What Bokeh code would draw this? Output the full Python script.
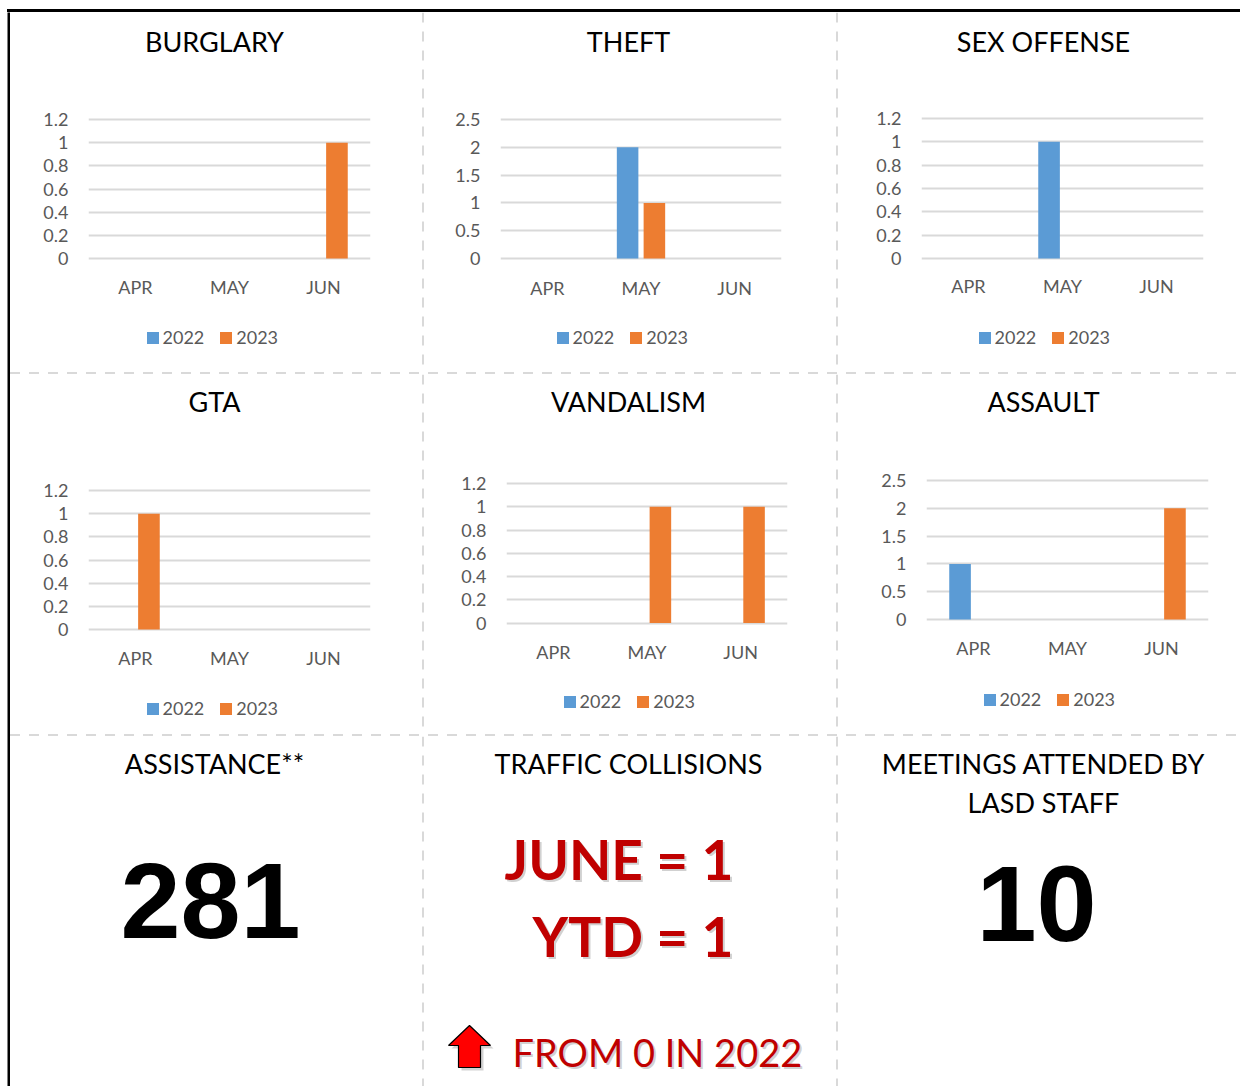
from bokeh.plotting import figure
from bokeh.layouts import row, column
from bokeh.models import (ColumnDataSource, FactorRange, Range1d, FixedTicker,
                          Legend, LegendItem, Span, Div, Spacer)
from bokeh.transform import dodge
from bokeh.embed import file_html
from bokeh.resources import INLINE
from bokeh.core.properties import value

# ---------------- data ----------------
MONTHS = ["APR", "MAY", "JUN"]
YEARS = ["2022", "2023"]

burglary_2022 = [0, 0, 0]
burglary_2023 = [0, 0, 1]
theft_2022 = [0, 2, 0]
theft_2023 = [0, 1, 0]
sex_2022 = [0, 1, 0]
sex_2023 = [0, 0, 0]
gta_2022 = [0, 0, 0]
gta_2023 = [1, 0, 0]
vandalism_2022 = [0, 0, 0]
vandalism_2023 = [0, 1, 1]
assault_2022 = [1, 0, 0]
assault_2023 = [0, 0, 2]

ticks_small = [0, 0.2, 0.4, 0.6, 0.8, 1, 1.2]
labels_small = ["0", "0.2", "0.4", "0.6", "0.8", "1", "1.2"]
ticks_big = [0, 0.5, 1, 1.5, 2, 2.5]
labels_big = ["0", "0.5", "1", "1.5", "2", "2.5"]

ASSISTANCE = 281
MEETINGS = 10
COLLISIONS_JUNE = 1
COLLISIONS_YTD = 1
COLLISIONS_PREV = 0
PREV_YEAR = "2022"

# ---------------- style / layout ----------------
BLUE = "#5B9BD5"
ORANGE = "#ED7D31"
GRID = "#D9D9D9"
TICK = "#595959"
SEP = "#D9D9D9"
FONT = "Lato"
DARKRED = "#C00000"
TITLE_SIZE = "27px"

PAD_TOP, PAD_LEFT, BORDER = 9, 7, 3
COL_L = [10, 424, 838]
COL_W = [411, 411, 402]
ROW_T = [12, 374, 736]
ROW_H = [359, 359, 350]


def chart(title, v22, v23, ticks, tlabels, ci, ri, fl, fr, t, z,
          tx, ty, months_y, legend_cy, leg_left):
    cl, ct, w, h = COL_L[ci], ROW_T[ri], COL_W[ci], ROW_H[ri]
    top_val = ticks[-1]
    u = top_val / (z - t)
    y0 = -(ct + h - z) * u
    y1 = top_val + (t - ct) * u
    p = figure(width=w, height=h, title=None, x_range=FactorRange(*MONTHS),
               y_range=Range1d(y0, y1), x_axis_location=None,
               output_backend="svg", toolbar_location=None,
               min_border_left=fl - cl, min_border_right=cl + w - fr,
               min_border_top=0, min_border_bottom=0,
               background_fill_color="white", border_fill_color="white",
               outline_line_color=None)

    def sx(px):
        return (px - fl) / (fr - fl) * len(MONTHS)

    def sy(py):
        return (z - py) * u

    src = ColumnDataSource(dict(month=MONTHS, y22=v22, y23=v23))
    r22 = p.vbar(x=dodge("month", -0.143, range=p.x_range), top="y22",
                 width=0.23, source=src, fill_color=BLUE, line_color=None)
    r23 = p.vbar(x=dodge("month", 0.143, range=p.x_range), top="y23",
                 width=0.23, source=src, fill_color=ORANGE, line_color=None)

    yax = p.yaxis[0]
    yax.ticker = FixedTicker(ticks=ticks)
    yax.major_label_overrides = dict(zip(ticks, tlabels))
    yax.axis_line_color = None
    yax.major_tick_line_color = None
    yax.minor_tick_line_color = None
    yax.major_tick_out = 0
    yax.major_tick_in = 0
    yax.major_label_standoff = 20
    yax.major_label_text_font = FONT
    yax.major_label_text_font_size = "18px"
    yax.major_label_text_color = TICK

    p.xgrid.visible = False
    p.ygrid.grid_line_color = GRID
    p.ygrid.grid_line_width = 2

    # title and month labels
    p.text(x=[sx(tx)], y=[sy(ty)], text=[title], text_font=value(FONT),
           text_font_size=TITLE_SIZE, text_align="center", text_baseline="middle",
           text_color="black")
    p.text(x=MONTHS, y=[sy(months_y)] * len(MONTHS), text=MONTHS,
           text_font=value(FONT), text_font_size="18px", text_align="center",
           text_baseline="middle", text_color=TICK)

    legend = Legend(items=[LegendItem(label=YEARS[0], renderers=[r22]),
                           LegendItem(label=YEARS[1], renderers=[r23])],
                    orientation="horizontal",
                    location=(leg_left - fl - 1.5, (ct + h) - (legend_cy + 10)),
                    border_line_color=None, background_fill_alpha=0,
                    glyph_width=15, glyph_height=15, label_standoff=3,
                    spacing=14, padding=0, margin=0, label_height=20,
                    label_text_font=FONT, label_text_font_size="18px",
                    label_text_color=TICK, label_text_baseline="middle")
    p.add_layout(legend, "center")
    return p


def blank(w, h, bg="white"):
    p = figure(width=w, height=h, title=None,
               x_range=Range1d(0, w), y_range=Range1d(0, h),
               x_axis_type=None, y_axis_type=None, output_backend="svg",
               toolbar_location=None, min_border=0,
               background_fill_color=bg, border_fill_color=bg,
               outline_line_color=None)
    return p


def vsep(h):
    p = blank(BORDER, h)
    p.add_layout(Span(location=1.5, dimension="height", line_color=SEP,
                      line_width=2, line_dash="10 9"))
    return p


def hsep(w):
    return Div(text="", width=w, height=BORDER, styles={
        "background-image": ("repeating-linear-gradient(to right, " + SEP +
                             " 0px, " + SEP + " 10px, rgba(0,0,0,0) 10px, "
                             "rgba(0,0,0,0) 19px)"),
        "background-size": "100% 2px",
        "background-repeat": "no-repeat",
        "background-position": "0px 0.5px",
        "margin": "0", "padding": "0"})


def black_bar(w, h):
    return Div(text="", width=w, height=h,
               styles={"background-color": "black", "margin": "0", "padding": "0"})


# page -> cell coordinates for the text cells of row 3
def cx(ci, x):
    return x - COL_L[ci]


def cy(y):
    return ROW_T[2] + ROW_H[2] - y


def txt(p, x, y, s, size, color="black", font=FONT, style="normal",
        align="center", alpha=1.0):
    p.text(x=[x], y=[y], text=[s], text_font=value(font),
           text_font_style=style, text_font_size=size, text_align=align,
           text_baseline="middle", text_color=color, text_alpha=alpha)


# ---------------- row 1 ----------------
c_burg = chart("BURGLARY", burglary_2022, burglary_2023, ticks_small, labels_small,
               0, 0, 88, 370, 119, 258, 214, 41, 286, 338, 146)
c_theft = chart("THEFT", theft_2022, theft_2023, ticks_big, labels_big,
                1, 0, 500, 781, 119, 258, 628, 41, 287, 338, 556)
c_sex = chart("SEX OFFENSE", sex_2022, sex_2023, ticks_small, labels_small,
              2, 0, 921, 1203, 118, 258, 1043, 41, 285, 338, 978)

# ---------------- row 2 ----------------
c_gta = chart("GTA", gta_2022, gta_2023, ticks_small, labels_small,
              0, 1, 88, 370, 490, 629, 214, 401, 657, 709, 146)
c_vand = chart("VANDALISM", vandalism_2022, vandalism_2023, ticks_small, labels_small,
               1, 1, 506, 787, 483, 622.5, 628, 401, 651, 702, 563)
c_assault = chart("ASSAULT", assault_2022, assault_2023, ticks_big, labels_big,
                  2, 1, 926, 1208, 480, 619, 1043, 401, 647, 700, 983)

# ---------------- row 3 ----------------
c_assist = blank(COL_W[0], ROW_H[2])
txt(c_assist, cx(0, 214), cy(763), "ASSISTANCE**", TITLE_SIZE)
txt(c_assist, cx(0, 210), cy(900), str(ASSISTANCE), "108px",
    font="Liberation Sans", style="bold")

c_traffic = blank(COL_W[1], ROW_H[2])
txt(c_traffic, cx(1, 628), cy(763), "TRAFFIC COLLISIONS", TITLE_SIZE)
big_lines = [f"JUNE = {COLLISIONS_JUNE}", f"YTD = {COLLISIONS_YTD}"]
big_ys = [858, 935]
for s, yy in zip(big_lines, big_ys):
    txt(c_traffic, cx(1, 735), cy(yy + 2), s, "55px", color="#9A9A9A",
        style="bold", align="right", alpha=0.45)
    txt(c_traffic, cx(1, 733), cy(yy), s, "55px", color=DARKRED,
        style="bold", align="right")
from_txt = f"FROM {COLLISIONS_PREV} IN {PREV_YEAR}"
txt(c_traffic, cx(1, 514), cy(1053), from_txt, "38px", color="#9A9A9A",
    align="left", alpha=0.45)
txt(c_traffic, cx(1, 512), cy(1051), from_txt, "38px", color=DARKRED,
    align="left")
arrow_px = [469, 490, 480, 480, 458, 458, 448]
arrow_py = [1025, 1045, 1045, 1067, 1067, 1045, 1045]
ax_ = [cx(1, v) for v in arrow_px]
ay_ = [cy(v) for v in arrow_py]
c_traffic.patch(x=[v + 3 for v in ax_], y=[v - 3 for v in ay_],
                fill_color="#7F7F7F", fill_alpha=0.35, line_color=None)
c_traffic.patch(x=ax_, y=ay_, fill_color="#FF0000", line_color="black",
                line_width=1.2)

c_meet = blank(COL_W[2], ROW_H[2])
txt(c_meet, cx(2, 1043), cy(763), "MEETINGS ATTENDED BY", TITLE_SIZE)
txt(c_meet, cx(2, 1043), cy(802), "LASD STAFF", TITLE_SIZE)
txt(c_meet, cx(2, 1036), cy(903), str(MEETINGS), "108px",
    font="Liberation Sans", style="bold")

# ---------------- layout ----------------
inner_w = sum(COL_W) + 2 * BORDER
r1 = row(c_burg, vsep(ROW_H[0]), c_theft, vsep(ROW_H[0]), c_sex)
r2 = row(c_gta, vsep(ROW_H[1]), c_vand, vsep(ROW_H[1]), c_assault)
r3 = row(c_assist, vsep(ROW_H[2]), c_traffic, vsep(ROW_H[2]), c_meet)
main = column(r1, hsep(inner_w), r2, hsep(inner_w), r3)
inner_h = sum(ROW_H) + 2 * BORDER
body = row(blank(PAD_LEFT, inner_h), blank(BORDER, inner_h, bg="black"), main)
full_w = PAD_LEFT + BORDER + inner_w
page = column(Spacer(width=full_w, height=PAD_TOP),
              row(Spacer(width=PAD_LEFT, height=BORDER),
                  black_bar(full_w - PAD_LEFT, BORDER)),
              body)

open("out.html", "w").write(file_html(page, INLINE))
